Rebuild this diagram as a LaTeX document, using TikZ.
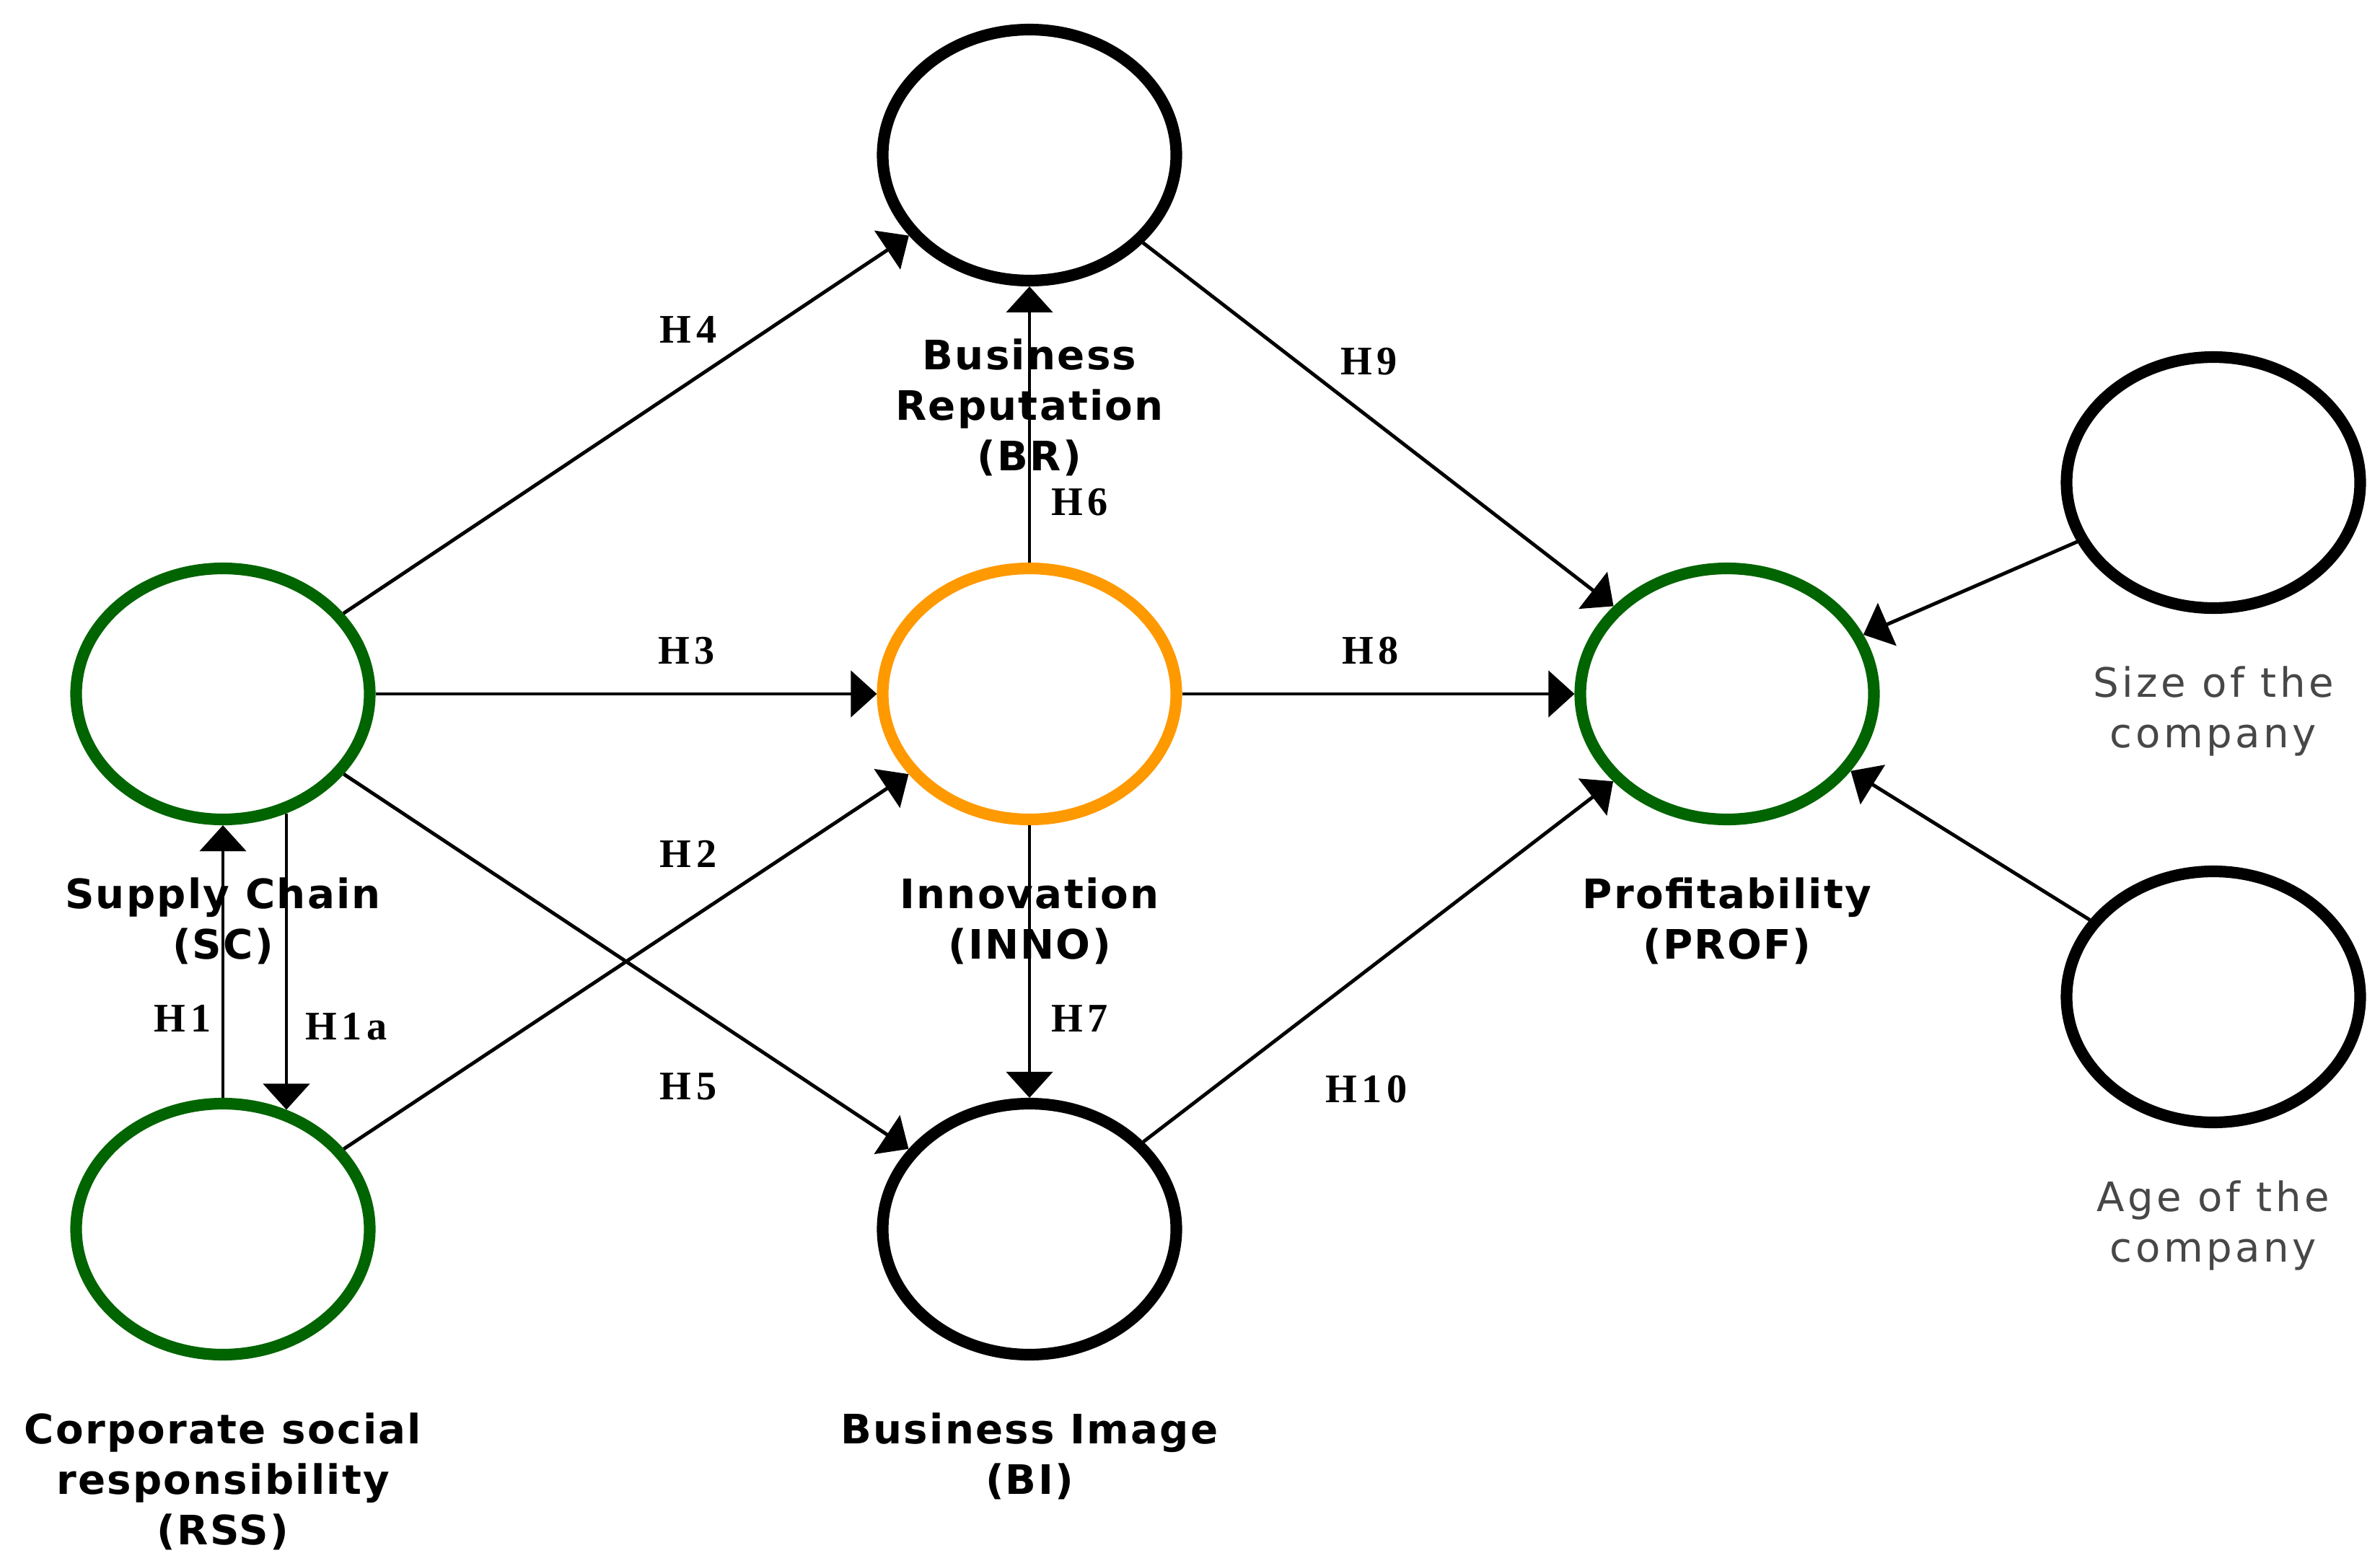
\documentclass[tikz,border=0pt]{standalone}
\usepackage{fontspec}
\setmainfont{DejaVu Sans}
\newfontfamily\capfont{DejaVu Sans}[LetterSpace=4]
\newfontfamily\ctlfont{DejaVu Sans}[LetterSpace=8]
\newfontfamily\hypfont{Liberation Serif}[LetterSpace=12]
\usepackage{tikz}
\usetikzlibrary{shapes.geometric,arrows.meta,positioning}
\definecolor{latgreen}{RGB}{0,100,0}
\definecolor{latorange}{RGB}{255,153,0}

\begin{document}
\begin{tikzpicture}[
    latent/.style={ellipse, draw=black, line width=4.6pt, fill=white, minimum width=4.07cm, minimum height=3.48cm, inner sep=0pt},
    capbox/.style={align=center, inner sep=0pt, font=\capfont\bfseries\fontsize{16pt}{19.9pt}\selectfont},
    ctlbox/.style={align=center, inner sep=0pt, text=black!72, font=\ctlfont\fontsize{16pt}{19.9pt}\selectfont},
    arr/.style={-{Triangle[length=0.36cm, width=0.64cm]}, line width=1.4pt},
    hyp/.style={inner sep=0pt, font=\hypfont\bfseries\fontsize{16pt}{19pt}\selectfont},
  ]
    \useasboundingbox (0,0) rectangle (32.99,-21.71);

    % Constructs
    \node[latent] (br) at (14.27,-2.15) {};
    \node[latent, draw=latgreen] (sc) at (3.09,-9.62) {};
    \node[latent, draw=latorange] (inno) at (14.27,-9.62) {};
    \node[latent, draw=latgreen] (prof) at (23.94,-9.62) {};
    \node[latent, draw=latgreen] (rss) at (3.09,-17.04) {};
    \node[latent] (bi) at (14.27,-17.04) {};

    % Control variables
    \node[latent] (size) at (30.68,-6.69) {};
    \node[latent] (age) at (30.68,-13.82) {};

    % Hypothesised paths
    \draw[arr] (rss.north) -- node[hyp, pos=0.29, left=0.14cm] (h1) {H1} (sc.south);
    \draw[arr] (sc.-62) -- node[hyp, pos=0.72, right=0.24cm] (h1a) {H1a} (rss.62);
    \draw[arr] (rss) -- node[hyp, pos=0.61, above=0.71cm] (h2) {H2} (inno);
    \draw[arr] (sc) -- node[hyp, pos=0.62, above=0.38cm] (h3) {H3} (inno);
    \draw[arr] (sc) -- node[hyp, pos=0.61, above=0.53cm] (h4) {H4} (br);
    \draw[arr] (sc) -- node[hyp, pos=0.61, below=0.95cm] (h5) {H5} (bi);
    \draw[arr] (inno) -- node[hyp, pos=0.22, right=0.28cm] (h6) {H6} (br);
    \draw[arr] (inno) -- node[hyp, pos=0.71, right=0.28cm] (h7) {H7} (bi);
    \draw[arr] (inno) -- node[hyp, pos=0.48, above=0.38cm] (h8) {H8} (prof);
    \draw[arr] (br) -- node[hyp, pos=0.48, above=0.56cm] (h9) {H9} (prof);
    \draw[arr] (bi) -- node[hyp, pos=0.475, below=1.43cm] (h10) {H10} (prof);

    % Controls
    \draw[arr] (size) -- (prof);
    \draw[arr] (age) -- (prof);

    % Captions
    \node[capbox, below=0.72cm of br] (brcap) {Business\\Reputation\\(BR)};
    \node[capbox, below=0.72cm of sc] (sccap) {Supply Chain\\(SC)};
    \node[capbox, below=0.72cm of inno] (innocap) {Innovation\\(INNO)};
    \node[capbox, below=0.72cm of prof] (profcap) {Profitability\\(PROF)};
    \node[capbox, below=0.72cm of rss] (rsscap) {Corporate social\\responsibility\\(RSS)};
    \node[capbox, below=0.72cm of bi] (bicap) {Business Image\\(BI)};
    \node[ctlbox, below=0.72cm of size] (sizecap) {Size of the\\company};
    \node[ctlbox, below=0.72cm of age] (agecap) {Age of the\\company};

\end{tikzpicture}
\end{document}
